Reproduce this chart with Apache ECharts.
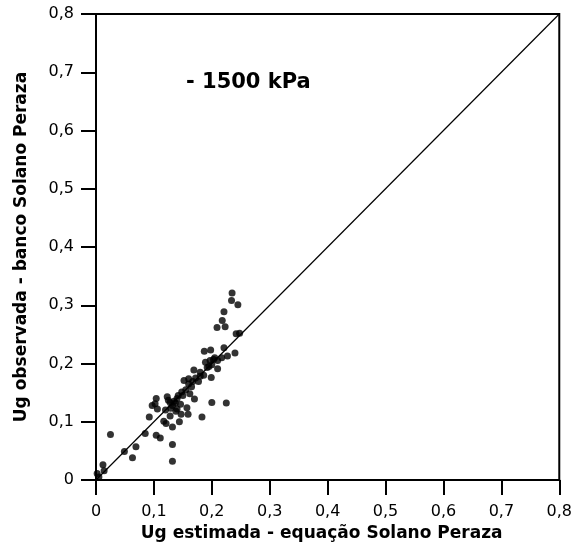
<!DOCTYPE html>
<html>
<head>
<meta charset="utf-8">
<script src="https://cdn.jsdelivr.net/npm/echarts@6/dist/echarts.min.js"></script>
<style>html,body{margin:0;padding:0;background:#fff}#c{width:575px;height:547px}</style>
</head>
<body>
<div id="c"></div>
<script>
var estimated = [0.235,0.234,0.245,0.221,0.218,0.209,0.223,0.248,0.242,0.187,0.198,0.221,0.240,0.227,0.217,0.203,0.197,0.189,0.210,0.200,0.192,0.169,0.180,0.186,0.199,0.160,0.152,0.177,0.165,0.148,0.162,0.170,0.123,0.104,0.142,0.102,0.097,0.106,0.125,0.132,0.137,0.146,0.129,0.140,0.157,0.200,0.225,0.092,0.128,0.147,0.159,0.183,0.117,0.121,0.144,0.132,0.085,0.025,0.104,0.111,0.132,0.069,0.049,0.063,0.132,0.012,0.014,0.002,0.135,0.140,0.128,0.150,0.155,0.160,0.205,0.195,0.210,0.172,0.180,0.005,0.120,0.138,0.167];
var observed  = [0.321,0.308,0.301,0.289,0.274,0.262,0.263,0.252,0.251,0.221,0.223,0.227,0.218,0.213,0.210,0.207,0.205,0.202,0.191,0.198,0.193,0.189,0.185,0.180,0.176,0.174,0.171,0.169,0.160,0.151,0.148,0.139,0.143,0.140,0.145,0.131,0.128,0.122,0.137,0.128,0.132,0.130,0.123,0.122,0.124,0.133,0.132,0.108,0.110,0.113,0.113,0.108,0.101,0.097,0.100,0.091,0.080,0.078,0.077,0.072,0.061,0.057,0.049,0.038,0.032,0.026,0.016,0.011,0.135,0.140,0.133,0.145,0.155,0.165,0.210,0.195,0.205,0.175,0.178,0.005,0.120,0.118,0.169];
var lineX = [0, 0.8];
var lineY = [0, 0.8];
var xTitle = 'Ug estimada - equação Solano Peraza';
var yTitle = 'Ug observada - banco Solano Peraza';
var annotation = '- 1500 kPa';

var pts = estimated.map(function(x, i){ return [x, observed[i]]; });
var linePts = lineX.map(function(x, i){ return [x, lineY[i]]; });
function fmt(v){ return v === 0 ? '0' : v.toFixed(1).replace('.', ','); }
var FONT = 'DejaVu Sans';
var axisCommon = {
  type: 'value', min: 0, max: 0.8, interval: 0.1,
  axisLine: {show: true, lineStyle: {color: '#000', width: 2}},
  axisTick: {show: true, length: 15, lineStyle: {color: '#000', width: 2}},
  splitLine: {show: false},
  nameLocation: 'middle'
};
var chart = echarts.init(document.getElementById('c'), null, {renderer: 'canvas'});
chart.setOption({
  animation: false,
  backgroundColor: '#fff',
  grid: {left: 96, right: 15, top: 14, bottom: 67, show: true, borderColor: '#000', borderWidth: 2, backgroundColor: 'transparent'},
  xAxis: Object.assign({}, axisCommon, {
    name: xTitle, nameGap: 38,
    nameTextStyle: {fontFamily: FONT, fontWeight: 'bold', fontSize: 17, color: '#000', padding: [0, 12, 0, 0]},
    axisLabel: {margin: 24, formatter: fmt, fontFamily: FONT, fontSize: 16, color: '#000'}
  }),
  yAxis: Object.assign({}, axisCommon, {
    name: yTitle, nameGap: 66,
    nameTextStyle: {fontFamily: FONT, fontWeight: 'bold', fontSize: 17, color: '#000'},
    axisLabel: {margin: 22, formatter: fmt, fontFamily: FONT, fontSize: 16, color: '#000'}
  }),
  graphic: [{
    type: 'text', left: 186, top: 72,
    style: {text: annotation, fontFamily: FONT, fontWeight: 'bold', fontSize: 21, fill: '#000'}
  }],
  series: [{
    type: 'line', data: linePts, showSymbol: false, symbol: 'none',
    lineStyle: {color: '#000', width: 1.2}, silent: true, z: 1
  }, {
    type: 'scatter', data: pts, symbolSize: 7,
    itemStyle: {color: '#000'}, z: 2
  }]
});
</script>
</body>
</html>
